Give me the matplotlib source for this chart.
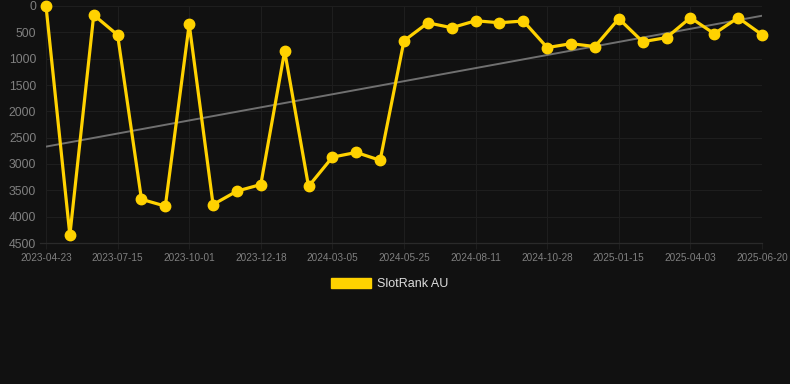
import matplotlib
matplotlib.use("Agg")
import matplotlib.pyplot as plt
from matplotlib.patches import Patch

plt.rcParams["font.family"] = ["Liberation Sans", "DejaVu Sans"]

# dates on the category axis (every third point gets a label)
tick_labels = ["2023-04-23", "2023-07-15", "2023-10-01", "2023-12-18", "2024-03-05",
               "2024-05-25", "2024-08-11", "2024-10-28", "2025-01-15", "2025-04-03",
               "2025-06-20"]

# rank values
ranks = [0, 4350, 170, 550, 3670, 3800, 345, 3770, 3515, 3390,
         855, 3425, 2870, 2780, 2930, 660, 320, 412, 280, 318,
         285, 790, 715, 770, 240, 678, 600, 222, 526, 222, 545]

# trend line ends
trend_start = 2670
trend_end = 185

BG = "#111111"
GOLD = "#FFD200"

fig = plt.figure(figsize=(7.9, 3.84), dpi=100, facecolor=BG)
ax = fig.add_axes([46 / 790, 1 - 243 / 384, 716 / 790, 237 / 384], facecolor=BG)

x = list(range(len(ranks)))
ax.plot([x[0], x[-1]], [trend_start, trend_end], color="#707070", lw=1.4, zorder=2)
ax.plot(x, ranks, color=GOLD, lw=2.3, marker="o", ms=7.5, clip_on=False, zorder=3)

ax.set_xlim(0, len(ranks) - 1)
ax.set_ylim(4500, 0)
ax.set_yticks(range(0, 4501, 500))
ax.set_xticks(x[::3])
ax.set_xticklabels(tick_labels)

ax.grid(True, color="#1e1e1e", lw=0.8)
ax.set_axisbelow(True)
for side in ["top", "right", "left", "bottom"]:
    ax.spines[side].set_visible(False)
# bottom axis line, reaching a little left of the plot
ax.plot([-0.25, len(ranks) - 1], [4500, 4500], color="#2a2a2a", lw=0.9, clip_on=False, zorder=1)

ax.tick_params(axis="y", colors="#808080", labelsize=8.8, length=0, pad=7)
ax.tick_params(axis="x", colors="#808080", labelsize=7.2, length=4, pad=3)
ax.tick_params(axis="x", color="#1e1e1e")

handle = Patch(facecolor=GOLD, edgecolor=GOLD)
fig.legend([handle], ["SlotRank AU"], loc="center", bbox_to_anchor=(390 / 790, 1 - 284 / 384),
           frameon=False, labelcolor="#dddddd", fontsize=9,
           handlelength=3.2, handleheight=0.85, handletextpad=0.5)

fig.savefig("out.png", dpi=100, facecolor=BG)
